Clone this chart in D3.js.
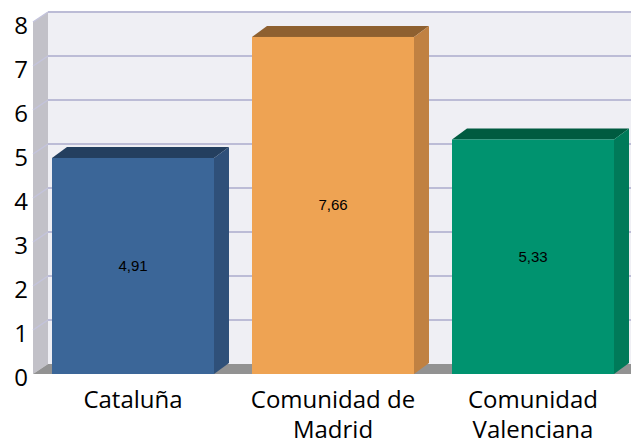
<!DOCTYPE html>
<html>
<head>
<meta charset="utf-8">
<script src="https://cdn.jsdelivr.net/npm/d3@7"></script>
<style>
  body { margin: 0; background: #fff; }
  svg { display: block; }
</style>
</head>
<body>
<div id="chart"></div>
<script>
var categories = [["Cataluña"], ["Comunidad de", "Madrid"], ["Comunidad", "Valenciana"]];
var values = [4.91, 7.66, 5.33];
var labels = ["4,91", "7,66", "5,33"];
var yTicks = [0, 1, 2, 3, 4, 5, 6, 7, 8];

var width = 631, height = 444;
var frontFace = ["#3b6698", "#eea353", "#00936f"];
var topFace = ["#243f5f", "#8e6030", "#005b40"];
var sideFace = ["#2f5079", "#c08142", "#007a59"];

// depth offsets of the 3d box
var wdx = 15, wdy = -10;
var bdx = 15, bdy = -11;

var svg = d3.select("#chart").append("svg")
  .attr("width", width)
  .attr("height", height);

var x = d3.scaleBand()
  .domain(d3.range(values.length))
  .range([33, 633])
  .paddingInner(0.19)
  .paddingOuter(0.095);

var y = d3.scaleLinear()
  .domain([0, 8])
  .range([374, 22]);

function pts(a) {
  return a.map(function(p) { return p.join(","); }).join(" ");
}

var x0 = 33, x1 = 640;

// back wall
svg.append("polygon")
  .attr("points", pts([[x0 + wdx, y(8) + wdy], [x1, y(8) + wdy], [x1, y(0) + wdy], [x0 + wdx, y(0) + wdy]]))
  .style("fill", "#efeff4");

// side wall
svg.append("polygon")
  .attr("points", pts([[x0, y(8)], [x0 + wdx, y(8) + wdy], [x0 + wdx, y(0) + wdy], [x0, y(0)]]))
  .style("fill", "#c2c1c8");

// floor
svg.append("polygon")
  .attr("points", pts([[x0, y(0)], [x0 + wdx, y(0) + wdy], [x1, y(0) + wdy], [x1, y(0)]]))
  .style("fill", "#929292");

// gridlines
yTicks.filter(function(d) { return d > 0; }).forEach(function(t) {
  svg.append("line")
    .attr("x1", x0 + wdx).attr("x2", x1)
    .attr("y1", y(t) + wdy).attr("y2", y(t) + wdy)
    .style("stroke", "#bcbcd6")
    .style("stroke-width", 2);
  svg.append("line")
    .attr("x1", x0).attr("x2", x0 + wdx)
    .attr("y1", y(t)).attr("y2", y(t) + wdy)
    .style("stroke", "#c4c4dc")
    .style("stroke-width", 1.5);
});

// bars
var bars = svg.selectAll("g.bar")
  .data(values)
  .enter()
  .append("g")
  .attr("class", "bar");

bars.append("polygon")
  .attr("points", function(d, i) {
    var l = x(i), r = x(i) + x.bandwidth(), t = y(d);
    return pts([[l, t], [l + bdx, t + bdy], [r + bdx, t + bdy], [r, t]]);
  })
  .style("fill", function(d, i) { return topFace[i]; });

bars.append("polygon")
  .attr("points", function(d, i) {
    var r = x(i) + x.bandwidth(), t = y(d), b = y(0);
    return pts([[r, t], [r + bdx, t + bdy], [r + bdx, b + bdy], [r, b]]);
  })
  .style("fill", function(d, i) { return sideFace[i]; });

bars.append("rect")
  .attr("x", function(d, i) { return x(i); })
  .attr("y", function(d) { return y(d); })
  .attr("width", x.bandwidth())
  .attr("height", function(d) { return y(0) - y(d); })
  .style("fill", function(d, i) { return frontFace[i]; });

bars.append("text")
  .attr("x", function(d, i) { return x(i) + x.bandwidth() / 2; })
  .attr("y", function(d) { return (y(d) + y(0)) / 2 + 5; })
  .attr("text-anchor", "middle")
  .style("font-family", "Arial, 'Liberation Sans', sans-serif")
  .style("font-size", "15px")
  .style("fill", "#000")
  .text(function(d, i) { return labels[i]; });

// y axis labels
svg.selectAll("text.ytick")
  .data(yTicks)
  .enter()
  .append("text")
  .attr("class", "ytick")
  .attr("x", 28)
  .attr("y", function(d) { return y(d) + 12; })
  .attr("text-anchor", "end")
  .style("font-family", "'Open Sans', sans-serif")
  .style("font-size", "24px")
  .style("fill", "#000")
  .text(function(d) { return d; });

// category labels, one text per line
categories.forEach(function(lines, i) {
  svg.selectAll(null)
    .data(lines)
    .enter()
    .append("text")
    .attr("class", "cat")
    .attr("x", x(i) + x.bandwidth() / 2)
    .attr("y", function(d, j) { return 408 + j * 30; })
    .attr("text-anchor", "middle")
    .style("font-family", "'Open Sans', sans-serif")
    .style("font-size", "24px")
    .style("fill", "#000")
    .text(function(d) { return d; });
});
</script>
</body>
</html>
